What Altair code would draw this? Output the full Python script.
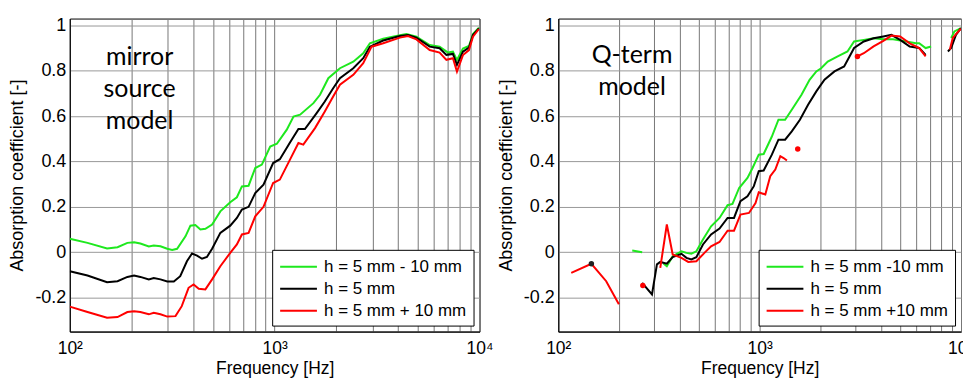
import altair as alt
import pandas as pd

# ---------------- data: left panel (mirror source model) ----------------
L_freq = [100, 122, 152, 171, 191, 206, 221, 243, 257, 277, 299, 316, 334, 367, 388, 410, 434, 459,
          495, 543, 607, 654, 692, 746, 804, 866, 951, 1025, 1146, 1236, 1331, 1546, 1665, 1828,
          2083, 2420, 2706, 2916, 3387, 4084, 4399, 4921, 5712, 6386, 7015, 7417, 7760, 8300, 8880, 9290, 9930]
L_green = [0.059, 0.041, 0.016, 0.022, 0.041, 0.044, 0.038, 0.025, 0.029, 0.026, 0.015, 0.010, 0.015, 0.070,
           0.117, 0.120, 0.100, 0.103, 0.122, 0.180, 0.220, 0.242, 0.290, 0.293, 0.371, 0.386, 0.466, 0.478,
           0.540, 0.598, 0.606, 0.657, 0.694, 0.767, 0.811, 0.840, 0.877, 0.921, 0.941, 0.957, 0.962, 0.950,
           0.913, 0.906, 0.880, 0.884, 0.847, 0.898, 0.909, 0.962, 0.990]
L_freq_b = [100, 122, 152, 171, 191, 206, 221, 243, 257, 277, 299, 322, 346, 373, 395, 418, 442, 467,
            495, 543, 607, 654, 692, 746, 804, 882, 983, 1060, 1188, 1306, 1405, 1603, 1757, 1930,
            2083, 2420, 2706, 2916, 3387, 4084, 4480, 4921, 5712, 6386, 6889, 7417, 7760, 8300, 8880, 9290, 9930]
L_black = [-0.084, -0.103, -0.132, -0.128, -0.109, -0.103, -0.109, -0.120, -0.114, -0.120, -0.129, -0.129,
           -0.106, -0.040, -0.006, -0.015, -0.029, -0.021, 0.015, 0.085, 0.117, 0.151, 0.188, 0.200, 0.261,
           0.298, 0.393, 0.410, 0.484, 0.543, 0.543, 0.613, 0.664, 0.723, 0.767, 0.811, 0.855, 0.906, 0.933,
           0.953, 0.957, 0.946, 0.906, 0.899, 0.870, 0.874, 0.826, 0.884, 0.902, 0.957, 0.987]
L_freq_r = [100, 122, 152, 171, 191, 206, 221, 243, 257, 277, 299, 328, 352, 380, 402, 426, 459, 495,
            543, 607, 654, 692, 746, 804, 882, 983, 1060, 1188, 1306, 1380, 1574, 1757, 1930, 2083,
            2420, 2706, 2972, 3387, 4084, 4480, 4921, 5712, 6386, 6889, 7417, 7760, 8300, 8880, 9290, 9930]
L_red = [-0.240, -0.264, -0.289, -0.286, -0.264, -0.260, -0.264, -0.274, -0.267, -0.274, -0.284, -0.282,
         -0.238, -0.157, -0.142, -0.161, -0.164, -0.120, -0.062, -0.003, 0.034, 0.078, 0.085, 0.158, 0.200,
         0.305, 0.320, 0.408, 0.481, 0.474, 0.547, 0.620, 0.686, 0.738, 0.782, 0.833, 0.906, 0.921, 0.946,
         0.953, 0.938, 0.891, 0.880, 0.848, 0.855, 0.796, 0.869, 0.891, 0.950, 0.984]

# ---------------- data: right panel (Q-term model), gapped segments ----------------
R_green_segs = [
    ([233, 261], [0.007, 0.000]),
    ([333, 346, 370, 409, 433, 458, 485, 523, 574, 632, 693, 733, 791, 870, 922, 990, 1047, 1150, 1240,
      1338, 1444, 1614, 1770, 1912, 2020, 2179, 2441, 2730, 2945, 3291, 3680, 4114, 4600, 5340, 5973,
      6200, 6673, 7105],
     [-0.050, -0.062, -0.018, 0.004, -0.003, -0.007, 0.004, 0.056, 0.114, 0.151, 0.207, 0.213, 0.283,
      0.327, 0.371, 0.430, 0.433, 0.510, 0.584, 0.584, 0.628, 0.694, 0.760, 0.797, 0.811, 0.840, 0.863,
      0.885, 0.929, 0.936, 0.943, 0.939, 0.939, 0.929, 0.921, 0.921, 0.900, 0.907]),
    ([8935, 9270, 9990], [0.944, 0.973, 0.988]),
]
R_black_segs = [
    ([261, 292, 309, 321, 346, 370, 409, 433, 458, 485, 523, 574, 632, 693, 746, 803, 870, 936, 990,
      1047, 1150, 1240, 1338, 1444, 1585, 1740, 1912, 2099, 2353, 2628, 2945, 3291, 3680, 4114, 4512,
      4986, 5562, 6200, 6673],
     [-0.135, -0.186, -0.054, -0.043, -0.051, -0.022, -0.007, -0.025, -0.032, -0.022, 0.034, 0.078, 0.104,
      0.151, 0.151, 0.225, 0.246, 0.291, 0.357, 0.360, 0.430, 0.496, 0.496, 0.533, 0.584, 0.650, 0.709,
      0.760, 0.797, 0.819, 0.900, 0.929, 0.943, 0.951, 0.958, 0.936, 0.907, 0.900, 0.870]),
    ([8610, 8935, 9436, 9990], [0.885, 0.900, 0.958, 0.988]),
]
R_red_segs = [
    ([116, 146, 173, 200], [-0.091, -0.051, -0.128, -0.230]),
    ([321, 346, 370, 409, 442, 485, 532, 574, 632, 693, 746, 803, 885, 954, 990, 1067, 1129, 1196, 1267,
      1315, 1366],
     [-0.069, 0.122, -0.010, -0.025, -0.043, -0.040, -0.003, 0.026, 0.045, 0.095, 0.095, 0.166, 0.173,
      0.217, 0.264, 0.254, 0.335, 0.364, 0.423, 0.415, 0.404]),
    ([3060, 3291, 3680, 4114, 4512, 4986, 5562, 6200, 6673],
     [0.863, 0.877, 0.907, 0.932, 0.955, 0.951, 0.921, 0.900, 0.863]),
    ([8800, 9100, 9436, 9990], [0.892, 0.944, 0.961, 0.985]),
]
R_red_dots_f = [263, 1546, 3060]
R_red_dots_v = [-0.147, 0.455, 0.863]
R_black_dots_f = [146]
R_black_dots_v = [-0.051]

L_labels = ["h = 5 mm - 10 mm", "h = 5 mm", "h = 5 mm + 10 mm"]
R_labels = ["h = 5 mm -10 mm", "h = 5 mm", "h = 5 mm +10 mm"]
COLORS = ["#1ee81e", "#000000", "#ff0000"]

x_ticks = [100, 200, 300, 400, 500, 600, 700, 800, 900, 1000, 2000, 3000, 4000, 5000, 6000,
           7000, 8000, 9000, 10000]
y_ticks = [-0.2, 0, 0.2, 0.4, 0.6, 0.8, 1.0]


def build_left():
    rows = []
    for lab, fs, vs in zip(L_labels, [L_freq, L_freq_b, L_freq_r], [L_green, L_black, L_red]):
        for f, v in zip(fs, vs):
            rows.append({"f": f, "v": v, "series": lab, "seg": lab + "0"})
    return pd.DataFrame(rows)


def build_right():
    rows = []
    for lab, segs in zip(R_labels, [R_green_segs, R_black_segs, R_red_segs]):
        for i, (fs, vs) in enumerate(segs):
            for f, v in zip(fs, vs):
                rows.append({"f": f, "v": v, "series": lab, "seg": lab + str(i)})
    return pd.DataFrame(rows)


FONT = "Liberation Sans"

xscale = alt.Scale(type="log", domain=[100, 10000], nice=False)
xenc = alt.X("f:Q", scale=xscale,
             axis=alt.Axis(values=x_ticks, title="Frequency [Hz]",
                           labelExpr="datum.value == 100 ? '10²' : datum.value == 1000 ? '10³' : datum.value == 10000 ? '10⁴' : ''",
                           grid=True, gridColor="#777777", gridWidth=1, ticks=False,
                           labelFontSize=17.5, titleFontSize=17.5, labelFont=FONT, titleFont=FONT,
                           titleFontWeight="normal",
                           labelColor="black", titleColor="black", labelPadding=8, titlePadding=3,
                           domainColor="black", labelOverlap=False, labelFlush=False))
yscale = alt.Scale(domain=[-0.35, 1.03], nice=False, zero=False)
yenc = alt.Y("v:Q", scale=yscale,
             axis=alt.Axis(values=y_ticks, title="Absorption coefficient [-]",
                           labelExpr="datum.value < 0 ? '-' + format(-datum.value, '~g') : format(datum.value, '~g')",
                           grid=True, gridColor="#999999", gridWidth=1, ticks=False,
                           labelFontSize=18, titleFontSize=18, labelFont=FONT, titleFont=FONT,
                           titleFontWeight="normal", labelFlush=False,
                           labelColor="black", titleColor="black", labelPadding=4, titlePadding=8,
                           domainColor="black"))


def panel(df, labels, text_lines, tx, ty, dots, width):
    lines = alt.Chart(df).mark_line(strokeWidth=2, clip=True).encode(
        x=xenc, y=yenc,
        color=alt.Color("series:N", scale=alt.Scale(domain=labels, range=COLORS),
                        legend=alt.Legend(title=None, orient="bottom-right", offset=6,
                                          fillColor="white", strokeColor="black", padding=7,
                                          symbolType="M-1,0H3.1", symbolSize=324, symbolStrokeWidth=2,
                                          labelFontSize=17, labelFont=FONT, labelColor="black",
                                          rowPadding=4, labelOffset=25, cornerRadius=0)),
        detail="seg:N",
    )
    layers = [lines]
    for (fs, vs, col) in dots:
        ddf = pd.DataFrame({"f": fs, "v": vs})
        layers.append(alt.Chart(ddf).mark_point(filled=True, size=30, opacity=1, color=col).encode(
            x=alt.X("f:Q", scale=xscale), y=alt.Y("v:Q", scale=yscale)))
    txt = alt.Chart(pd.DataFrame({"t": [0]})).mark_text(
        text=text_lines, font="Lato", fontSize=25, align="center", baseline="middle",
        lineHeight=32, color="black").encode(x=alt.value(tx), y=alt.value(ty))
    layers.append(txt)
    return alt.layer(*layers).properties(width=width, height=314)


left = panel(build_left(), L_labels, ["mirror", "source", "model"], 70, 39, [], 411)
right = panel(build_right(), R_labels, ["Q-term", "model"], 74, 37,
              [(R_red_dots_f, R_red_dots_v, "#ff0000"), (R_black_dots_f, R_black_dots_v, "#222222")], 404)

chart = alt.hconcat(left, right, spacing=3).resolve_scale(color="independent").resolve_legend(
    color="independent").configure_view(stroke="black", strokeWidth=1).properties(
    padding={"left": 0, "top": 7, "right": -12, "bottom": 0})

chart.save("out.html", embed_options={"renderer": "svg", "actions": False})
